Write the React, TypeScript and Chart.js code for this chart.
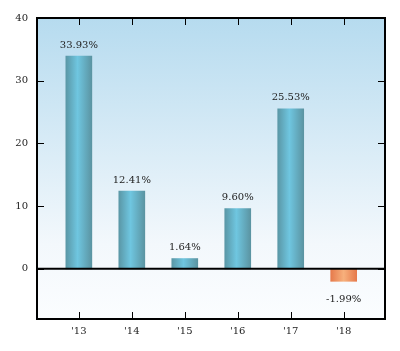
import React, { useEffect, useRef } from "react";
import { Chart, registerables } from "chart.js";

Chart.register(...registerables);

const categories = ["'13", "'14", "'15", "'16", "'17", "'18"];
const values = [33.93, 12.41, 1.64, 9.6, 25.53, -1.99];
const yTicks = [0, 10, 20, 30, 40];
const Y_MIN = -8;
const Y_MAX = 40;

const SERIF = "'DejaVu Serif', serif";

const decorPlugin = {
  id: "decor",
  beforeDatasetsDraw(chart: any) {
    const { ctx, chartArea: a } = chart;
    ctx.save();
    const g = ctx.createLinearGradient(0, a.top, 0, a.bottom);
    g.addColorStop(0, "#b6dbef");
    g.addColorStop(0.75, "#f3f8fc");
    g.addColorStop(1, "#fbfdff");
    ctx.fillStyle = g;
    ctx.fillRect(a.left, a.top, a.right - a.left, a.bottom - a.top);
    ctx.restore();
  },
  afterDraw(chart: any) {
    const { ctx, chartArea: a } = chart;
    const ys = chart.scales.y;
    const xs = chart.scales.x;
    ctx.save();
    const meta = chart.getDatasetMeta(0);
    ctx.font = "10px " + SERIF;
    ctx.fillStyle = "#222";
    ctx.textAlign = "center";
    ctx.textBaseline = "middle";
    meta.data.forEach((bar: any, i: number) => {
      const v = values[i];
      const txt = v.toFixed(2) + "%";
      if (v >= 0) ctx.fillText(txt, bar.x, bar.y - 11);
      else ctx.fillText(txt, bar.x, bar.y + 18);
    });
    const z = ys.getPixelForValue(0);
    ctx.strokeStyle = "#000";
    ctx.lineWidth = 2;
    ctx.beginPath();
    ctx.moveTo(a.left, z);
    ctx.lineTo(a.right, z);
    ctx.stroke();
    const tl = 7;
    ctx.fillStyle = "#000";
    for (let i = 0; i < categories.length; i++) {
      const px = Math.round(xs.getPixelForValue(i));
      ctx.fillRect(px, a.bottom - tl, 1, tl);
      ctx.fillRect(px, a.top, 1, tl);
    }
    for (const t of yTicks) {
      const py = Math.round(ys.getPixelForValue(t));
      ctx.fillRect(a.left, py, tl, 1);
      ctx.fillRect(a.right - tl, py, tl, 1);
    }
    ctx.lineWidth = 2;
    ctx.strokeRect(a.left, a.top, a.right - a.left, a.bottom - a.top);
    ctx.restore();
  },
};

function barFill(c: any) {
  const chart = c.chart;
  const xs = chart.scales && chart.scales.x;
  if (!chart.chartArea || !xs || c.dataIndex === undefined) return "#66b8d0";
  const cx = xs.getPixelForValue(c.dataIndex);
  if (!isFinite(cx)) return "#66b8d0";
  const v = values[c.dataIndex];
  const w = 26;
  const x0 = cx - w / 2;
  const g = chart.ctx.createLinearGradient(x0, 0, x0 + w, 0);
  if (v >= 0) {
    g.addColorStop(0, "#5a97a6");
    g.addColorStop(0.45, "#6fc6e0");
    g.addColorStop(1, "#5b94a2");
  } else {
    g.addColorStop(0, "#e67a4c");
    g.addColorStop(0.5, "#f7b07c");
    g.addColorStop(1, "#e67a4c");
  }
  return g;
}

export default function App() {
  const ref = useRef<HTMLCanvasElement>(null);
  useEffect(() => {
    if (!ref.current) return;
    const chart = new Chart(ref.current, {
      type: "bar",
      data: {
        datasets: [
          {
            data: values.map((v, i) => ({ x: i, y: v })),
            backgroundColor: barFill as any,
            borderWidth: 0,
            barThickness: 26,
          },
        ],
      },
      options: {
        animation: false,
        responsive: false,
        maintainAspectRatio: false,
        layout: { padding: { left: 0, top: 18, right: 15, bottom: 0 } },
        plugins: { legend: { display: false }, tooltip: { enabled: false } },
        scales: {
          x: {
            type: "linear",
            offset: false,
            min: -0.79,
            max: 5.78,
            afterFit: (s: any) => {
              s.height = 32;
            },
            afterBuildTicks: (s: any) => {
              s.ticks = categories.map((_, i) => ({ value: i }));
            },
            grid: { display: false, drawTicks: false },
            border: { display: false },
            ticks: {
              padding: 6,
              color: "#222",
              font: { family: SERIF, size: 10 },
              callback: (v: any) => categories[v] ?? "",
            },
          },
          y: {
            min: Y_MIN,
            max: Y_MAX,
            afterFit: (s: any) => {
              s.width = 37;
            },
            afterBuildTicks: (s: any) => {
              s.ticks = yTicks.map((t) => ({ value: t }));
            },
            grid: { display: false, drawTicks: false },
            border: { display: false },
            ticks: {
              padding: 9,
              color: "#222",
              font: { family: SERIF, size: 10 },
            },
          },
        },
      },
      plugins: [decorPlugin],
    });
    return () => chart.destroy();
  }, []);
  return (
    <div style={{ position: "fixed", left: 0, top: 0, width: 400, height: 351, background: "#fff" }}>
      <canvas ref={ref} width={400} height={351} style={{ width: 400, height: 351 }} />
    </div>
  );
}
